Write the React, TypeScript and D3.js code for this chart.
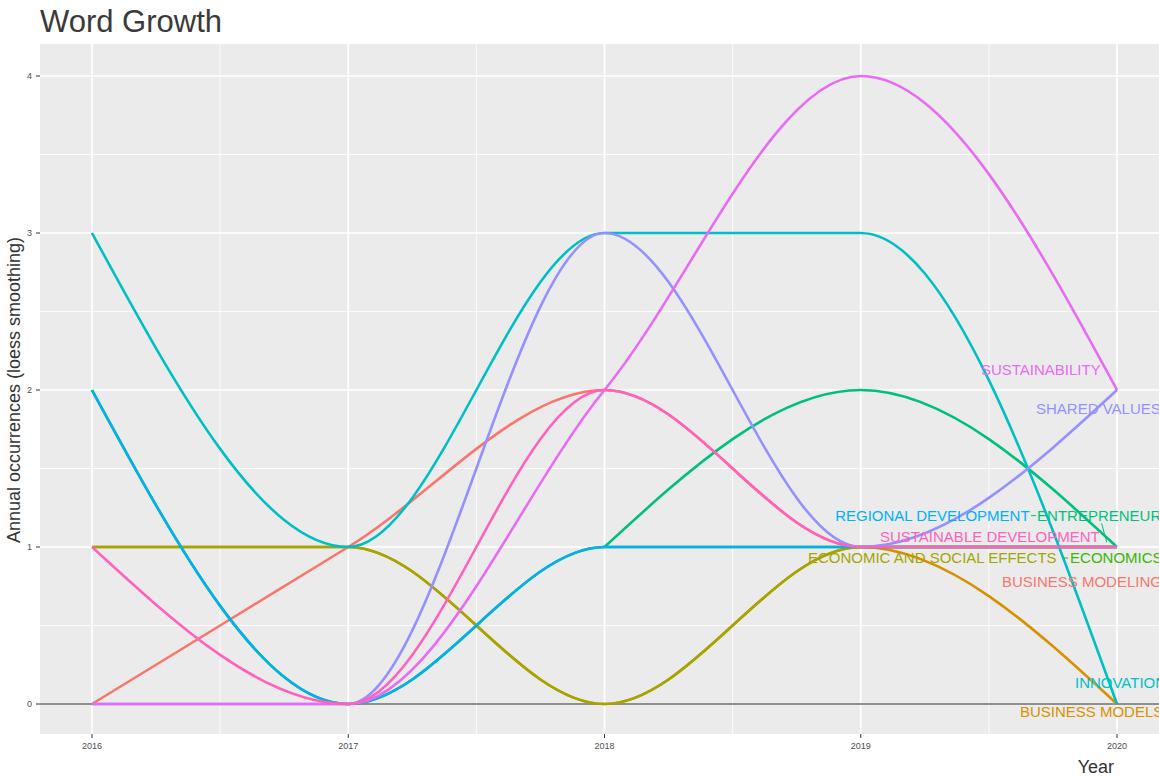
import React from "react";
import * as d3 from "d3";

const years = [2016, 2017, 2018, 2019, 2020];
const seriesNames = [
  "BUSINESS MODELING",
  "BUSINESS MODELS",
  "ECONOMIC AND SOCIAL EFFECTS",
  "ECONOMICS",
  "ENTREPRENEURSHIP",
  "INNOVATION",
  "REGIONAL DEVELOPMENT",
  "SHARED VALUES",
  "SUSTAINABILITY",
  "SUSTAINABLE DEVELOPMENT",
];
const businessModeling = [0, 1, 2, 1, 1];
const businessModels = [1, 1, 0, 1, 0];
const economicSocial = [1, 1, 0, 1, 1];
const economics = [2, 0, 1, 1, 1];
const entrepreneurship = [NaN, NaN, 1, 2, 1];
const innovation = [3, 1, 3, 3, 0];
const regionalDevelopment = [2, 0, 1, 1, 1];
const sharedValues = [0, 0, 3, 1, 2];
const sustainability = [0, 0, 2, 4, 2];
const sustainableDevelopment = [1, 0, 2, 1, 1];
const seriesValues = [
  businessModeling, businessModels, economicSocial, economics, entrepreneurship,
  innovation, regionalDevelopment, sharedValues, sustainability, sustainableDevelopment,
];
const colors = ["#F8766D", "#D89000", "#A3A500", "#39B600", "#00BF7D", "#00BFC4", "#00B0F6", "#9590FF", "#E76BF3", "#FF62BC"];

// label placements (data units), kept apart from the data
const labelX = [2019.551, 2019.621, 2018.794, 2019.817, 2019.688, 2019.836, 2018.9, 2019.684, 2019.469, 2019.075];
const labelY = [0.78, -0.05, 0.93, 0.93, 1.2, 0.14, 1.2, 1.88, 2.13, 1.07];

const yTicks = [0, 1, 2, 3, 4];
const xTicks = [2016, 2017, 2018, 2019, 2020];

export default function App() {
  const W = 1159, H = 778;
  const panelL = 40, panelT = 44, panelB = 734, panelR = 1159;
  const x = d3.scaleLinear().domain([2016, 2020]).range([92, 1117]);
  const y = d3.scaleLinear().domain([0, 4]).range([704, 76]);
  const line = d3.line<[number, number]>()
    .defined((d) => !Number.isNaN(d[1]))
    .x((d) => x(d[0]))
    .y((d) => y(d[1]))
    .curve(d3.curveMonotoneX);
  const font = "Liberation Sans, Arial, sans-serif";
  const xMinor = d3.range(2015.5, 2020.6, 1);
  const yMinorAll = [-0.5, 0.5, 1.5, 2.5, 3.5, 4.5];
  return (
    <div style={{ position: "absolute", left: 0, top: 0 }}>
      <svg width={W} height={H} style={{ display: "block", background: "#fff" }}>
        <text x={40} y={32} fontFamily={font} fontSize={31} fill="#3a3a3a">Word Growth</text>
        <rect x={panelL} y={panelT} width={panelR - panelL} height={panelB - panelT} fill="#EBEBEB" />
        {xMinor.map((t) => (
          <line key={"xm" + t} x1={x(t)} x2={x(t)} y1={panelT} y2={panelB} stroke="#fff" strokeWidth={0.8} />
        ))}
        {yMinorAll.map((t) => (
          <line key={"ym" + t} x1={panelL} x2={panelR} y1={y(t)} y2={y(t)} stroke="#fff" strokeWidth={0.8} />
        ))}
        {xTicks.map((t) => (
          <line key={"xM" + t} x1={x(t)} x2={x(t)} y1={panelT} y2={panelB} stroke="#fff" strokeWidth={1.7} />
        ))}
        {yTicks.map((t) => (
          <line key={"yM" + t} x1={panelL} x2={panelR} y1={y(t)} y2={y(t)} stroke="#fff" strokeWidth={1.7} />
        ))}
        <line x1={panelL} x2={panelR} y1={y(0)} y2={y(0)} stroke="#6b6b6b" strokeWidth={1.6} />
        {seriesValues.map((vals, i) => (
          <path
            key={seriesNames[i]}
            d={line(years.map((yr, j) => [yr, vals[j]] as [number, number])) || ""}
            fill="none"
            stroke={colors[i]}
            strokeWidth={2.6}
          />
        ))}
        {/* repel segments */}
        <line x1={x(labelX[4]) - 6} x2={x(labelX[4]) - 1} y1={y(labelY[4])} y2={y(labelY[4])} stroke={colors[4]} strokeWidth={1} />
        <line x1={x(2019.94)} x2={x(2019.96)} y1={y(1.15)} y2={y(1.03)} stroke={colors[4]} strokeWidth={1} />
        <line x1={x(labelX[3]) - 7} x2={x(labelX[3]) - 2} y1={y(labelY[3])} y2={y(labelY[3])} stroke={colors[3]} strokeWidth={1} />
        {seriesNames.map((n, i) => (
          <text
            key={"lab" + n}
            x={x(labelX[i])}
            y={y(labelY[i])}
            dominantBaseline="central"
            fontFamily={font}
            fontSize={15}
            fill={colors[i]}
          >
            {n}
          </text>
        ))}
        {/* axes */}
        {yTicks.map((t) => (
          <g key={"yt" + t}>
            <line x1={panelL - 4} x2={panelL} y1={y(t)} y2={y(t)} stroke="#333" strokeWidth={1} />
            <text x={panelL - 8} y={y(t)} dominantBaseline="central" textAnchor="end" fontFamily={font} fontSize={9} fill="#4D4D4D">{t}</text>
          </g>
        ))}
        {xTicks.map((t) => (
          <g key={"xt" + t}>
            <line x1={x(t)} x2={x(t)} y1={panelB} y2={panelB + 4} stroke="#333" strokeWidth={1} />
            <text x={x(t)} y={panelB + 15} textAnchor="middle" fontFamily={font} fontSize={9} fill="#4D4D4D">{t}</text>
          </g>
        ))}
        <text x={1114} y={773} textAnchor="end" fontFamily={font} fontSize={18} fill="#333">Year</text>
        <text
          transform={`translate(20, 390) rotate(-90)`}
          textAnchor="middle"
          fontFamily={font}
          fontSize={18}
          fill="#333"
        >
          Annual occurrences (loess smoothing)
        </text>
      </svg>
    </div>
  );
}
